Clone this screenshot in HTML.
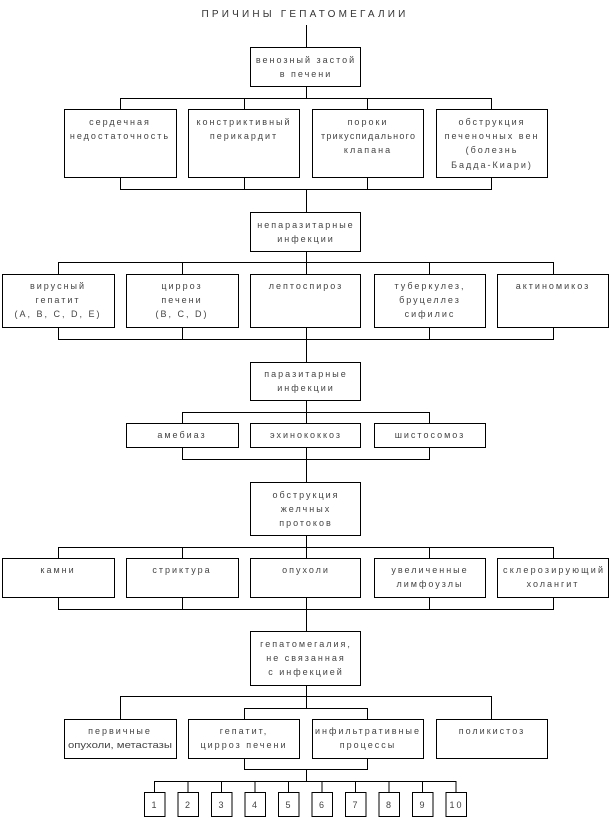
<!DOCTYPE html>
<html><head><meta charset="utf-8"><style>
html,body{margin:0;padding:0;background:#fff;}
svg{display:block;}
text{font-family:"Liberation Sans","DejaVu Sans",sans-serif;font-size:9px;fill:#444;letter-spacing:2px;text-anchor:middle;}
.t{font-size:10px;letter-spacing:3.2px;fill:#333;}
.f{letter-spacing:0;}
</style></head><body>
<svg width="611" height="818" viewBox="0 0 611 818" xmlns="http://www.w3.org/2000/svg">
<g fill="none" stroke="#000" stroke-width="1">
<line x1="306.5" y1="25" x2="306.5" y2="47"/>
<rect x="250.5" y="47.5" width="110" height="39"/>
<line x1="306.5" y1="86" x2="306.5" y2="98"/>
<polyline points="120.5,109 120.5,98.5 491.5,98.5 491.5,109"/>
<line x1="244.5" y1="98" x2="244.5" y2="109"/><line x1="367.5" y1="98" x2="367.5" y2="109"/>
<rect x="64.5" y="109.5" width="112" height="68"/>
<rect x="188.5" y="109.5" width="111" height="68"/>
<rect x="312.5" y="109.5" width="111" height="68"/>
<rect x="436.5" y="109.5" width="111" height="68"/>
<polyline points="120.5,177 120.5,189.5 491.5,189.5 491.5,177"/>
<line x1="244.5" y1="177" x2="244.5" y2="189"/><line x1="367.5" y1="177" x2="367.5" y2="189"/>
<line x1="306.5" y1="189" x2="306.5" y2="212"/>
<rect x="250.5" y="212.5" width="110" height="39"/>
<line x1="306.5" y1="251" x2="306.5" y2="274"/>
<polyline points="58.5,274 58.5,262.5 553.5,262.5 553.5,274"/>
<line x1="182.5" y1="262" x2="182.5" y2="274"/><line x1="429.5" y1="262" x2="429.5" y2="274"/>
<rect x="2.5" y="274.5" width="112" height="53"/>
<rect x="126.5" y="274.5" width="112" height="53"/>
<rect x="250.5" y="274.5" width="110" height="53"/>
<rect x="374.5" y="274.5" width="111" height="53"/>
<rect x="497.5" y="274.5" width="111" height="53"/>
<polyline points="58.5,327 58.5,339.5 553.5,339.5 553.5,327"/>
<line x1="182.5" y1="327" x2="182.5" y2="339"/><line x1="429.5" y1="327" x2="429.5" y2="339"/>
<line x1="306.5" y1="327" x2="306.5" y2="362"/>
<rect x="250.5" y="362.5" width="110" height="38"/>
<line x1="306.5" y1="400" x2="306.5" y2="423"/>
<polyline points="182.5,423 182.5,412.5 429.5,412.5 429.5,423"/>
<rect x="126.5" y="423.5" width="112" height="24"/>
<rect x="250.5" y="423.5" width="110" height="24"/>
<rect x="374.5" y="423.5" width="111" height="24"/>
<polyline points="182.5,447 182.5,459.5 429.5,459.5 429.5,447"/>
<line x1="306.5" y1="447" x2="306.5" y2="482"/>
<rect x="250.5" y="482.5" width="110" height="53"/>
<line x1="306.5" y1="535" x2="306.5" y2="558"/>
<polyline points="58.5,558 58.5,547.5 553.5,547.5 553.5,558"/>
<line x1="182.5" y1="547" x2="182.5" y2="558"/><line x1="429.5" y1="547" x2="429.5" y2="558"/>
<rect x="2.5" y="558.5" width="112" height="39"/>
<rect x="126.5" y="558.5" width="112" height="39"/>
<rect x="250.5" y="558.5" width="110" height="39"/>
<rect x="374.5" y="558.5" width="111" height="39"/>
<rect x="497.5" y="558.5" width="111" height="39"/>
<polyline points="58.5,597 58.5,609.5 553.5,609.5 553.5,597"/>
<line x1="182.5" y1="597" x2="182.5" y2="609"/><line x1="429.5" y1="597" x2="429.5" y2="609"/>
<line x1="306.5" y1="597" x2="306.5" y2="631"/>
<rect x="250.5" y="631.5" width="110" height="54"/>
<line x1="306.5" y1="685" x2="306.5" y2="708"/>
<polyline points="120.5,719 120.5,696.5 491.5,696.5 491.5,719"/>
<polyline points="244.5,719 244.5,708.5 367.5,708.5 367.5,719"/>
<rect x="64.5" y="719.5" width="112" height="39"/>
<rect x="188.5" y="719.5" width="111" height="39"/>
<rect x="312.5" y="719.5" width="111" height="39"/>
<rect x="436.5" y="719.5" width="111" height="39"/>
<polyline points="244.5,758 244.5,769.5 367.5,769.5 367.5,758"/>
<line x1="306.5" y1="769" x2="306.5" y2="781"/>
<line x1="154.5" y1="781.5" x2="456.5" y2="781.5"/>
<line x1="154.5" y1="781" x2="154.5" y2="792"/><rect x="144.5" y="792.5" width="20.5" height="24"/>
<line x1="188" y1="781" x2="188" y2="792"/><rect x="178" y="792.5" width="20.5" height="24"/>
<line x1="221.5" y1="781" x2="221.5" y2="792"/><rect x="211.5" y="792.5" width="20.5" height="24"/>
<line x1="255" y1="781" x2="255" y2="792"/><rect x="245" y="792.5" width="20.5" height="24"/>
<line x1="288.5" y1="781" x2="288.5" y2="792"/><rect x="278.5" y="792.5" width="20.5" height="24"/>
<line x1="322" y1="781" x2="322" y2="792"/><rect x="312" y="792.5" width="20.5" height="24"/>
<line x1="355.5" y1="781" x2="355.5" y2="792"/><rect x="345.5" y="792.5" width="20.5" height="24"/>
<line x1="389" y1="781" x2="389" y2="792"/><rect x="379" y="792.5" width="20.5" height="24"/>
<line x1="422.5" y1="781" x2="422.5" y2="792"/><rect x="412.5" y="792.5" width="20.5" height="24"/>
<line x1="456" y1="781" x2="456" y2="792"/><rect x="446" y="792.5" width="20.5" height="24"/>
</g>
<text class="t" x="305" y="17">ПРИЧИНЫ ГЕПАТОМЕГАЛИИ</text>
<text x="306" y="63">венозный застой</text><text x="306" y="77">в печени</text>
<text x="120" y="125">сердечная</text><text x="120" y="139">недостаточность</text>
<text x="244" y="125">констриктивный</text><text x="244" y="139">перикардит</text>
<text x="368" y="125">пороки</text><text class="f" x="368" y="139" textLength="94" lengthAdjust="spacing">трикуспидального</text><text x="368" y="153">клапана</text>
<text x="492" y="125">обструкция</text><text x="492" y="139">печеночных вен</text><text x="492" y="153">(болезнь</text><text x="492" y="168">Бадда-Киари)</text>
<text x="306" y="228">непаразитарные</text><text x="306" y="242">инфекции</text>
<text x="58" y="289">вирусный</text><text x="58" y="303">гепатит</text><text x="58" y="317">(A, B, C, D, E)</text>
<text x="182" y="289">цирроз</text><text x="182" y="303">печени</text><text x="182" y="317">(B, C, D)</text>
<text x="306" y="289">лептоспироз</text>
<text x="430" y="289">туберкулез,</text><text x="430" y="303">бруцеллез</text><text x="430" y="317">сифилис</text>
<text x="553" y="289">актиномикоз</text>
<text x="306" y="377">паразитарные</text><text x="306" y="391">инфекции</text>
<text x="182" y="438">амебиаз</text><text x="306" y="438">эхинококкоз</text><text x="430" y="438">шистосомоз</text>
<text x="306" y="498">обструкция</text><text x="306" y="512">желчных</text><text x="306" y="526">протоков</text>
<text x="58" y="573">камни</text><text x="182" y="573">стриктура</text><text x="306" y="573">опухоли</text>
<text x="430" y="573">увеличенные</text><text x="430" y="587">лимфоузлы</text>
<text class="f" x="553" y="573" textLength="100" lengthAdjust="spacing">склерозирующий</text><text x="553" y="587">холангит</text>
<text x="306" y="647">гепатомегалия,</text><text x="306" y="661">не связанная</text><text x="306" y="675">с инфекцией</text>
<text x="120" y="734">первичные</text><text class="f" x="120" y="748" textLength="104" lengthAdjust="spacingAndGlyphs">опухоли, метастазы</text>
<text x="244" y="734">гепатит,</text><text x="244" y="748">цирроз печени</text>
<text x="368" y="734">инфильтративные</text><text x="368" y="748">процессы</text>
<text x="492" y="734">поликистоз</text>
<g style="letter-spacing:1px">
<text x="155" y="808">1</text><text x="188.5" y="808">2</text><text x="222" y="808">3</text><text x="255.5" y="808">4</text><text x="289" y="808">5</text><text x="322.5" y="808">6</text><text x="356" y="808">7</text><text x="389.5" y="808">8</text><text x="423" y="808">9</text><text x="456.5" y="808">10</text>
</g>
</svg>
</body></html>
